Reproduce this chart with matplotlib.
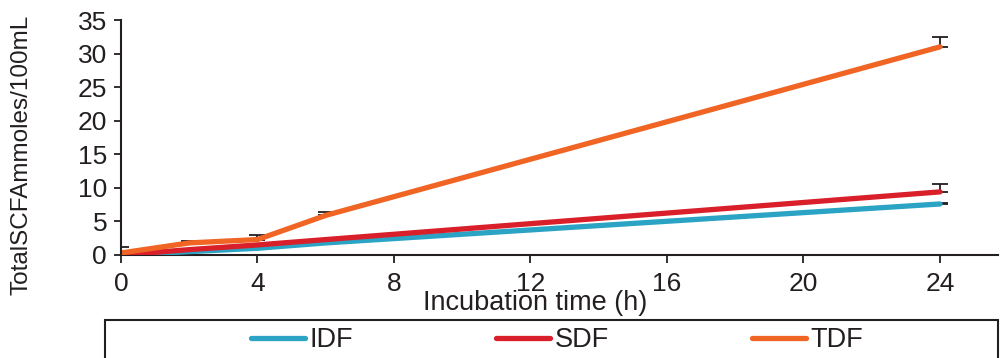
import matplotlib
matplotlib.use("Agg")
import matplotlib.pyplot as plt
from matplotlib.patches import Rectangle

plt.rcParams['font.family'] = ['Liberation Sans', 'DejaVu Sans']

hours = [0, 2, 4, 6, 24]
idf = [0.0, 0.5, 1.0, 1.8, 7.6]
sdf = [0.0, 0.8, 1.5, 2.3, 9.4]
tdf = [0.3, 1.8, 2.3, 5.9, 31.0]
idf_err = [0.0, 0.0, 0.0, 0.0, 0.1]
sdf_err = [0.0, 0.0, 0.0, 0.0, 1.2]
tdf_err = [0.9, 0.3, 0.7, 0.5, 1.5]
xticks = [0, 4, 8, 12, 16, 20, 24]
yticks = [0, 5, 10, 15, 20, 25, 30, 35]

c_idf = '#2aa3c4'
c_sdf = '#d91f2a'
c_tdf = '#f06424'

fig = plt.figure(figsize=(10, 3.58), dpi=100)
ax = fig.add_axes([0.121, 1 - 255/358, 0.877, (255 - 20)/358])

for vals, err, col, lab in [(idf, idf_err, c_idf, 'IDF'),
                            (sdf, sdf_err, c_sdf, 'SDF'),
                            (tdf, tdf_err, c_tdf, 'TDF')]:
    ax.errorbar(hours, vals, yerr=[[0]*len(err), err], fmt='none',
                ecolor='#231f20', elinewidth=1.3, capsize=6, capthick=1.3, zorder=2)
    ax.plot(hours, vals, color=col, lw=3.8, solid_capstyle='round', label=lab, zorder=3)

ax.set_xlim(0, 25.7)
ax.set_ylim(0, 35)
ax.set_xticks(xticks)
ax.set_yticks(yticks)
ax.tick_params(axis='both', labelsize=19, colors='#231f20', width=1.3, direction='out')
ax.tick_params(axis='y', length=5, pad=5)
ax.tick_params(axis='x', length=6, pad=6)
for s in ['top', 'right']:
    ax.spines[s].set_visible(False)
for s in ['left', 'bottom']:
    ax.spines[s].set_linewidth(1.5)
    ax.spines[s].set_color('#231f20')
ax.spines['left'].set_zorder(4)

ax.set_xlabel('Incubation time (h)', fontsize=19.5, color='#231f20')
ax.xaxis.set_label_coords(535/1000, 1 - 303/358, transform=fig.transFigure)
ax.xaxis.label.set_verticalalignment('center')
ax.set_ylabel('TotalSCFAmmoles/100mL', fontsize=17.5, color='#231f20')
ax.yaxis.set_label_coords(22/1000, 1 - 155/358, transform=fig.transFigure)
ax.yaxis.label.set_verticalalignment('center')

fig.patches.append(Rectangle((0.105, -0.1), 0.893, (358 - 320)/358 + 0.1,
                             transform=fig.transFigure, fill=False,
                             edgecolor='#231f20', lw=1.5))
h, l = ax.get_legend_handles_labels()
fig.legend(h, l, loc='center', bbox_to_anchor=(0.557, 1 - 340/358), ncol=3,
           frameon=False, fontsize=19.5, handlelength=2.0, handletextpad=0.15,
           columnspacing=5.3, labelcolor='#231f20')

fig.savefig('out.png', dpi=100)
